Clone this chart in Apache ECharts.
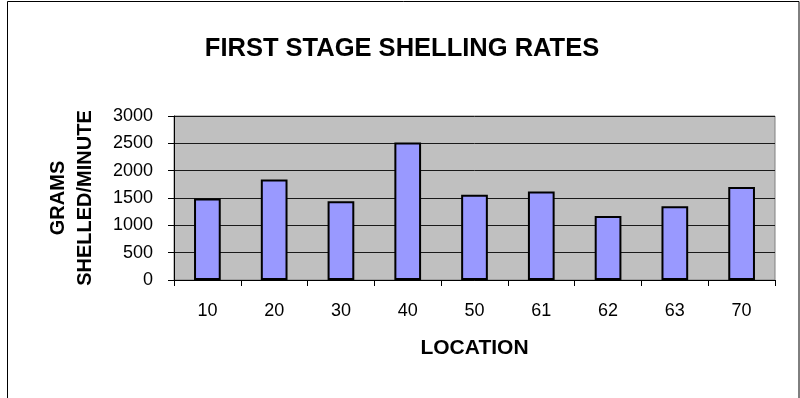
<!DOCTYPE html>
<html>
<head>
<meta charset="utf-8">
<script src="https://cdn.jsdelivr.net/npm/echarts@6/dist/echarts.min.js"></script>
<style>html,body{margin:0;padding:0;background:#fff;}#c{width:800px;height:398px;}</style>
</head>
<body>
<div id="c"></div>
<script>
var categories = ['10', '20', '30', '40', '50', '61', '62', '63', '70'];
var shellingRates = [1490, 1840, 1440, 2515, 1560, 1620, 1170, 1350, 1700];
var yTicks = [0, 500, 1000, 1500, 2000, 2500, 3000];

var FONT = '"Liberation Sans", Arial, sans-serif';
var chart = echarts.init(document.getElementById('c'), null, {renderer: 'canvas'});
chart.setOption({
  animation: false,
  backgroundColor: '#ffffff',
  title: {
    text: 'FIRST STAGE SHELLING RATES',
    left: 397, top: 31, textAlign: 'center',
    textStyle: {fontFamily: FONT, fontSize: 25.5, fontWeight: 'bold', color: '#000'}
  },
  graphic: [{
    type: 'rect', silent: true,
    shape: {x: 7.5, y: 1.5, width: 791.5, height: 440},
    style: {fill: 'none', stroke: '#000', lineWidth: 1}
  }],
  grid: {
    left: 174, right: 25, top: 116, bottom: 118,
    show: true, backgroundColor: '#C0C0C0', borderColor: '#808080', borderWidth: 1
  },
  xAxis: {
    type: 'category', data: categories, boundaryGap: true,
    name: 'LOCATION', nameLocation: 'middle', nameGap: 58,
    nameTextStyle: {fontFamily: FONT, fontSize: 21, fontWeight: 'bold', color: '#000'},
    axisLine: {show: true, lineStyle: {color: '#000', width: 1}},
    axisTick: {show: true, alignWithLabel: false, length: 6, lineStyle: {color: '#000'}},
    axisLabel: {fontFamily: FONT, fontSize: 18, color: '#000', margin: 22},
    splitLine: {show: false}
  },
  yAxis: {
    type: 'value', min: yTicks[0], max: yTicks[yTicks.length - 1], interval: 500,
    name: 'GRAMS\nSHELLED/MINUTE', nameLocation: 'middle', nameRotate: 90, nameGap: 75,
    nameTextStyle: {fontFamily: FONT, fontSize: 20, fontWeight: 'bold', color: '#000', lineHeight: 27},
    axisLine: {show: true, lineStyle: {color: '#000', width: 1}},
    axisTick: {show: true, length: 6, lineStyle: {color: '#000'}},
    axisLabel: {fontFamily: FONT, fontSize: 18, color: '#000', margin: 21, formatter: function (v) { return String(v); }},
    splitLine: {show: true, lineStyle: {color: '#1a1a1a', width: 1}}
  },
  series: [{
    type: 'bar', data: shellingRates, barWidth: '40%',
    itemStyle: {color: '#9999FF', borderColor: '#000', borderWidth: 2}
  }]
});
</script>
</body>
</html>
